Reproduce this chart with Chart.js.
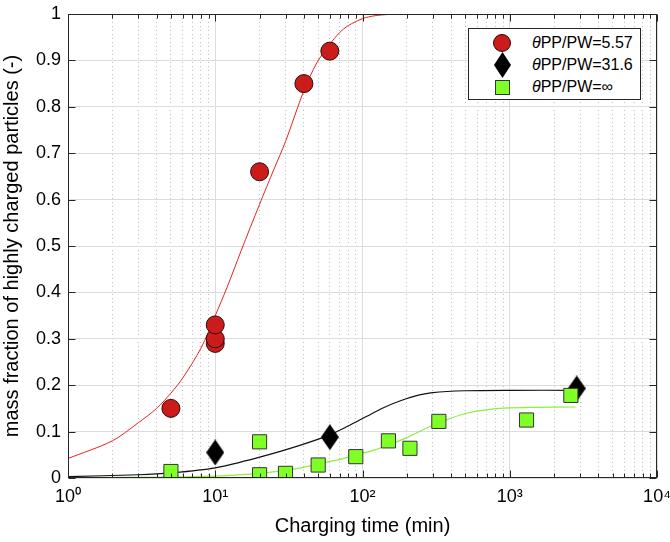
<!DOCTYPE html>
<html><head><meta charset="utf-8">
<script src="https://cdn.jsdelivr.net/npm/chart.js@4.4.0/dist/chart.umd.min.js"></script>
<style>
html,body{margin:0;padding:0;background:#fff;}
#wrap{position:relative;width:670px;height:542px;}
canvas{display:block;}
#legend{position:absolute;left:468px;top:28px;width:173px;height:72px;border:1px solid #262626;background:#fff;box-sizing:border-box;font-family:"Liberation Sans",Arial,sans-serif;font-size:16px;color:#000;}
.row{position:absolute;left:0;width:100%;height:22px;}
.mk{position:absolute;box-sizing:border-box;}
.lt{position:absolute;left:63px;top:2px;line-height:18px;white-space:nowrap;}
.lt i{font-style:italic;}
</style>
</head><body>
<div id="wrap">
<canvas id="c" width="670" height="542"></canvas>
<div id="legend">
 <div class="row" style="top:3px"><div class="mk" style="left:24px;top:2px;width:18px;height:18px;border-radius:50%;background:#cc1b1b;border:1px solid #2a0808;"></div><div class="lt"><i>θ</i>PP/PW=5.57</div></div>
 <div class="row" style="top:25px"><div class="mk" style="left:25px;top:-2px;width:17px;height:26px;background:#000;clip-path:polygon(50% 0,100% 50%,50% 100%,0 50%);"></div><div class="lt"><i>θ</i>PP/PW=31.6</div></div>
 <div class="row" style="top:47px"><div class="mk" style="left:26px;top:4px;width:15px;height:15px;background:#80ff26;border:1px solid #333;"></div><div class="lt"><i>θ</i>PP/PW=∞</div></div>
</div>
</div>
<script>
// ---- data ----
const redT = [5, 10, 10, 10, 20, 40, 60];
const redY = [0.15, 0.29, 0.30, 0.33, 0.66, 0.85, 0.92];
const blackT = [10, 60, 2850];
const blackY = [0.055, 0.088, 0.193];
const greenT = [5, 20, 20, 30, 50, 90, 150, 210, 330, 1300, 2600];
const greenY = [0.014, 0.078, 0.007, 0.010, 0.028, 0.046, 0.080, 0.064, 0.122, 0.125, 0.178];

const redFitT = [1, 2, 3, 4, 5, 6, 8, 10, 12, 15, 20, 25, 30, 40, 49, 60, 70, 80, 100, 120, 150, 200, 300, 1000, 2850];
const redFitY = [0.042, 0.080, 0.119, 0.150, 0.183, 0.215, 0.28, 0.35, 0.41, 0.49, 0.59, 0.665, 0.725, 0.835, 0.895, 0.935, 0.96, 0.975, 0.99, 0.996, 0.999, 1, 1, 1, 1];
const blackFitT = [1, 3, 5, 10, 20, 38, 60, 80, 107, 140, 179, 230, 300, 500, 1000, 2850];
const blackFitY = [0.003, 0.007, 0.011, 0.022, 0.045, 0.071, 0.093, 0.112, 0.133, 0.152, 0.166, 0.177, 0.184, 0.188, 0.189, 0.189];
const greenFitT = [1, 5, 10, 20, 34, 50, 70, 90, 120, 150, 200, 250, 330, 500, 850, 1400, 2800];
const greenFitY = [0.001, 0.002, 0.004, 0.010, 0.019, 0.030, 0.040, 0.049, 0.060, 0.071, 0.087, 0.102, 0.119, 0.139, 0.150, 0.152, 0.153];

const xMajorTicks = [1, 10, 100, 1000, 10000];
const xTickLabels = ['10⁰', '10¹', '10²', '10³', '10⁴'];
const xMinorMult = [2, 3, 4, 5, 6, 7, 8, 9];
const yTicks = [0, 0.1, 0.2, 0.3, 0.4, 0.5, 0.6, 0.7, 0.8, 0.9, 1];
const yTickLabels = ['0', '0.1', '0.2', '0.3', '0.4', '0.5', '0.6', '0.7', '0.8', '0.9', '1'];

const xMinorTicks = [];
for (let k = 0; k < xMajorTicks.length - 1; k++) for (const m of xMinorMult) xMinorTicks.push(xMajorTicks[k] * m);

const pts = (t, y) => t.map((v, i) => ({x: v, y: y[i]}));

// diamond marker
const dia = document.createElement('canvas');
dia.width = 18; dia.height = 26;
(function(){const g = dia.getContext('2d'); g.fillStyle = '#000'; g.beginPath(); g.moveTo(9,0); g.lineTo(18,13); g.lineTo(9,26); g.lineTo(0,13); g.closePath(); g.fill();})();

const FONT = '"Liberation Sans", Arial, sans-serif';

const frame = {
  id: 'frame',
  afterDraw(chart) {
    const {ctx, chartArea: a} = chart;
    const xs = chart.scales.x, ys = chart.scales.y;
    ctx.save();
    ctx.strokeStyle = '#262626';
    ctx.lineWidth = 1;
    const L = Math.round(a.left) + 0.5, R = Math.round(a.right) - 0.5, T = Math.round(a.top) + 0.5, B = Math.round(a.bottom) - 0.5;
    ctx.beginPath();
    const tickX = (v, len) => {
      const p = Math.round(xs.getPixelForValue(v)) + 0.5;
      ctx.moveTo(p, B); ctx.lineTo(p, B - len);
      ctx.moveTo(p, T); ctx.lineTo(p, T + len);
    };
    xMajorTicks.forEach(v => tickX(v, 7));
    xMinorTicks.forEach(v => tickX(v, 4));
    yTicks.forEach(v => {
      const p = Math.round(ys.getPixelForValue(v)) + 0.5;
      ctx.moveTo(L, p); ctx.lineTo(L + 7, p);
      ctx.moveTo(R, p); ctx.lineTo(R - 7, p);
    });
    ctx.stroke();
    ctx.strokeRect(L, T, R - L, B - T);
    ctx.restore();
  }
};

const noPadX = s => { s.paddingLeft = 0; s.paddingRight = 0; };

new Chart(document.getElementById('c'), {
  type: 'scatter',
  data: {
    datasets: [
      {label: 'g', data: pts(greenT, greenY), pointStyle: 'rect', pointRadius: 10, backgroundColor: '#80ff26', borderColor: '#333', borderWidth: 1, order: 0},
      {label: 'b', data: pts(blackT, blackY), pointStyle: dia, pointRadius: 9, backgroundColor: '#000', borderColor: '#000', order: 1},
      {label: 'r', data: pts(redT, redY), pointStyle: 'circle', pointRadius: 9, backgroundColor: '#cc1b1b', borderColor: '#2a0808', borderWidth: 1, order: 2},
      {label: 'rf', data: pts(redFitT, redFitY), showLine: true, pointRadius: 0, borderColor: '#e52222', borderWidth: 1, tension: 0.3, order: 3},
      {label: 'bf', data: pts(blackFitT, blackFitY), showLine: true, pointRadius: 0, borderColor: '#111', borderWidth: 1.2, tension: 0.3, order: 4},
      {label: 'gf', data: pts(greenFitT, greenFitY), showLine: true, pointRadius: 0, borderColor: '#8af03a', borderWidth: 1.2, tension: 0.3, order: 5}
    ]
  },
  options: {
    responsive: false,
    animation: false,
    events: [],
    layout: {padding: {left: 0, right: 13, top: 14, bottom: 0}},
    plugins: {legend: {display: false}, tooltip: {enabled: false}},
    scales: {
      x: {
        type: 'logarithmic', position: 'bottom', min: 1, max: 10000,
        afterBuildTicks: s => { s.ticks = xMajorTicks.map(v => ({value: v, major: true})); },
        afterFit: s => { s.height = 64; noPadX(s); },
        ticks: {autoSkip: false, maxRotation: 0, padding: 8, color: '#000', font: {family: FONT, size: 18},
          callback: v => { const i = xMajorTicks.indexOf(v); return i >= 0 ? xTickLabels[i] : ''; }},
        grid: {color: '#dcdcdc', lineWidth: 1, drawTicks: false},
        border: {display: false},
        title: {display: true, text: 'Charging time (min)', color: '#000', font: {family: FONT, size: 20}, padding: {top: 0, bottom: 4}}
      },
      xMinor: {
        type: 'logarithmic', position: 'bottom', min: 1, max: 10000,
        afterBuildTicks: s => { s.ticks = xMinorTicks.map(v => ({value: v})); },
        afterFit: s => { s.height = 0; noPadX(s); },
        ticks: {display: false},
        grid: {color: '#bdbdbd', lineWidth: 1, drawTicks: false},
        border: {display: false, dash: [1, 3]}
      },
      y: {
        type: 'linear', min: 0, max: 1,
        afterBuildTicks: s => { s.ticks = yTicks.map(v => ({value: v})); },
        afterFit: s => { s.width = 68; s.paddingTop = 0; s.paddingBottom = 0; },
        ticks: {autoSkip: false, padding: 7, color: '#000', font: {family: FONT, size: 18},
          callback: v => { const i = yTicks.findIndex(t => Math.abs(t - v) < 1e-9); return i >= 0 ? yTickLabels[i] : ''; }},
        grid: {color: '#dcdcdc', lineWidth: 1, drawTicks: false},
        border: {display: false},
        title: {display: true, text: 'mass fraction of highly charged particles (-)', color: '#000', font: {family: FONT, size: 20}, padding: {top: 0, bottom: 0}}
      }
    }
  },
  plugins: [frame]
});
</script>
</body></html>
